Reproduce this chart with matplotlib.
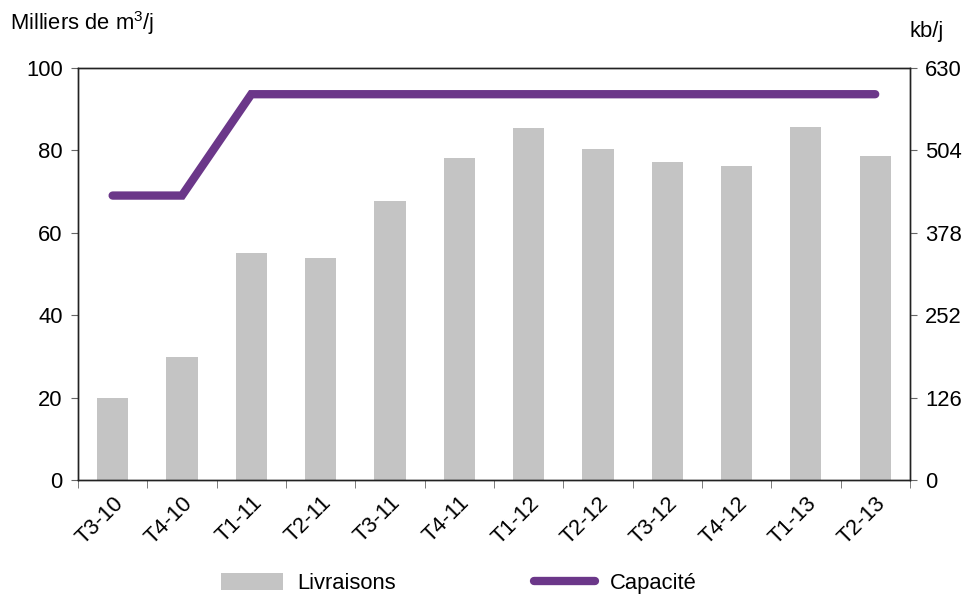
import matplotlib.pyplot as plt
import numpy as np

plt.rcParams['font.family'] = ['Liberation Sans', 'DejaVu Sans']
plt.rcParams['mathtext.fontset'] = 'custom'
plt.rcParams['mathtext.rm'] = 'Liberation Sans'

quarters = ['T3-10', 'T4-10', 'T1-11', 'T2-11', 'T3-11', 'T4-11',
            'T1-12', 'T2-12', 'T3-12', 'T4-12', 'T1-13', 'T2-13']
livraisons = [19.9, 29.9, 55.1, 53.9, 67.8, 78.1, 85.4, 80.3, 77.2, 76.3, 85.6, 78.6]
capacite_kbj = [435, 435, 590, 590, 590, 590, 590, 590, 590, 590, 590, 590]

left_ticks = [0, 20, 40, 60, 80, 100]
right_ticks = [0, 126, 252, 378, 504, 630]

bar_color = '#C4C4C4'
line_color = '#6B3789'
spine_color = '#222222'
fs = 15.8

fig = plt.figure(figsize=(9.7, 5.97), dpi=100)
ax = fig.add_axes([0.0804, 0.196, 0.8576, 0.690])
ax2 = ax.twinx()

x = np.arange(len(quarters))
bars = ax.bar(x, livraisons, width=0.45, color=bar_color, label='Livraisons', zorder=2)
line, = ax2.plot(x, capacite_kbj, color=line_color, linewidth=6,
                 solid_capstyle='round', solid_joinstyle='miter', label='Capacité', zorder=3)

ax.set_xlim(-0.5, len(quarters) - 0.5)
ax.set_ylim(0, 100)
ax2.set_ylim(0, 630)
ax.set_yticks(left_ticks)
ax2.set_yticks(right_ticks)

ax.set_xticks(x)
ax.set_xticklabels(quarters, rotation=45, ha='right', rotation_mode='anchor', fontsize=fs)
ax.set_xticks(np.arange(-0.5, len(quarters)), minor=True)
ax.tick_params(axis='x', which='major', length=0, pad=9)
ax.tick_params(axis='x', which='minor', length=6, direction='out', color='#666666')
ax.tick_params(axis='y', length=5, direction='out', labelsize=fs, color='#666666', pad=6)
ax2.tick_params(axis='y', length=5, direction='out', labelsize=fs, color='#666666', pad=6)

for a in (ax, ax2):
    for s in a.spines.values():
        s.set_color(spine_color)
        s.set_linewidth(1.0)

fig.text(0.010, 0.962, r'Milliers de m$^{\mathregular{3}}$/j', fontsize=fs, ha='left', va='center')
fig.text(0.955, 0.948, 'kb/j', fontsize=fs, ha='center', va='center')

fig.legend([bars, line], ['Livraisons', 'Capacité'], loc='center',
           bbox_to_anchor=(0.473, 0.022), ncol=2, frameon=False, fontsize=fs,
           handlelength=2.8, handleheight=0.8, columnspacing=6.3, handletextpad=0.65)

fig.savefig('out.png', dpi=100, facecolor='white')
